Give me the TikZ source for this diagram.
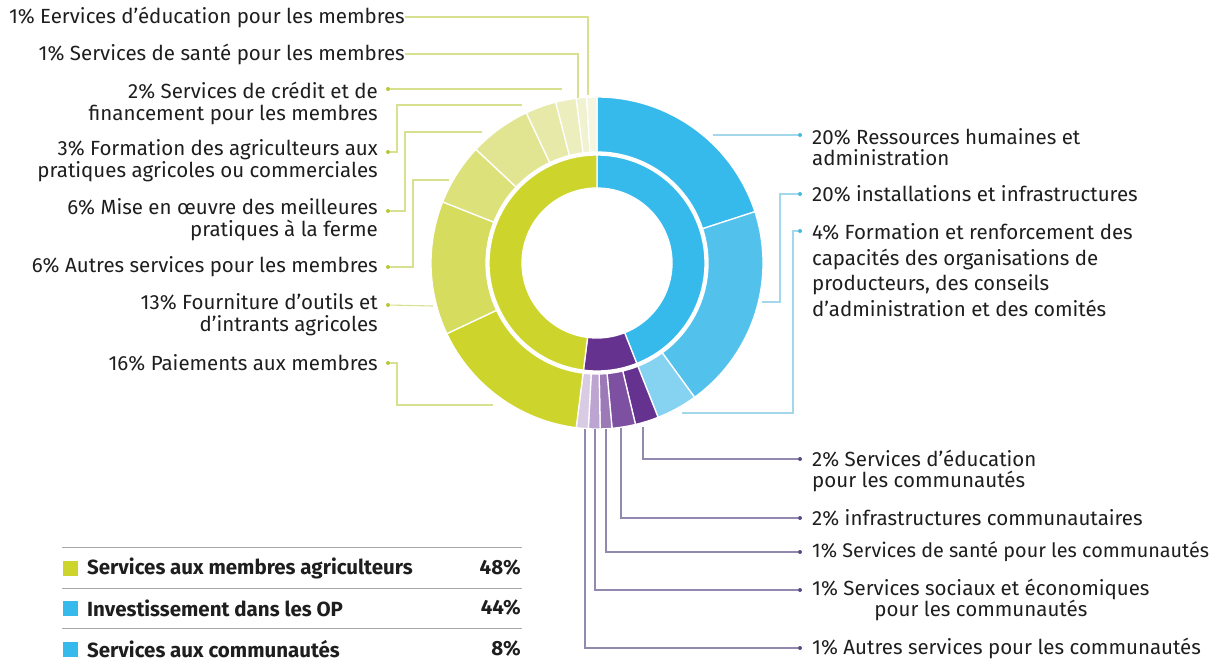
\documentclass[tikz,border=0pt]{standalone}
\usepackage{fontspec}
\setmainfont{Fira Sans}
\usetikzlibrary{positioning}

\definecolor{txt}{HTML}{1E1E1E}
% ring colours
\definecolor{grA}{HTML}{CDD52C}
\definecolor{grB}{HTML}{D5DC5E}
\definecolor{grC}{HTML}{DCE17A}
\definecolor{grD}{HTML}{E1E591}
\definecolor{grE}{HTML}{E6E9A8}
\definecolor{grF}{HTML}{ECEEBE}
\definecolor{grG}{HTML}{F1F2D0}
\definecolor{grH}{HTML}{F5F6E0}
\definecolor{blA}{HTML}{36BAEB}
\definecolor{blB}{HTML}{52C2ED}
\definecolor{blC}{HTML}{86D3F1}
\definecolor{puA}{HTML}{653290}
\definecolor{puB}{HTML}{7E50A2}
\definecolor{puC}{HTML}{9C7AB8}
\definecolor{puD}{HTML}{BCA5D0}
\definecolor{puE}{HTML}{DACBE5}
% leader colours
\definecolor{grLine}{HTML}{D8E18F}
\definecolor{grDot}{HTML}{B8C83A}
\definecolor{blLine}{HTML}{A3D8EC}
\definecolor{blDot}{HTML}{46B7E0}
\definecolor{puLine}{HTML}{9388AE}
\definecolor{puDot}{HTML}{5A4888}
\definecolor{rule}{HTML}{A8A8A8}

\tikzstyle{lbl}=[inner sep=0pt, text=txt, font=\fontsize{20.5}{22}\selectfont]
\tikzstyle{lblL}=[lbl, anchor=east, align=right]
\tikzstyle{lblR}=[lbl, anchor=west, align=left]
\tikzstyle{legtext}=[inner sep=0pt, text=txt, font=\fontsize{20.5}{22}\selectfont\bfseries]
\tikzstyle{gdot}=[circle, fill=grDot, inner sep=0pt, minimum size=4pt]
\tikzstyle{bdot}=[circle, fill=blDot, inner sep=0pt, minimum size=4pt]
\tikzstyle{pdot}=[circle, fill=puDot, inner sep=0pt, minimum size=4pt]
\tikzstyle{gline}=[draw=grLine, line width=1.1pt]
\tikzstyle{bline}=[draw=blLine, line width=1.1pt]
\tikzstyle{pline}=[draw=puLine, line width=1.1pt]
\tikzstyle{legsq}=[inner sep=0pt, minimum size=15pt]

% one piece of the ring: start angle, end angle, inner radius, outer radius, colour
\newcommand{\ringseg}[5]{%
  \fill[#5, draw=white, line width=1.3pt] (#1:#4) arc[start angle=#1, end angle=#2, radius=#4]
    -- (#2:#3) arc[start angle=#2, end angle=#1, radius=#3] -- cycle;}

\begin{document}
\begin{tikzpicture}[x=1pt, y=-1pt]
    \useasboundingbox (0,0) rectangle (1219,667);

    % donut
    \begin{scope}[shift={(597,263)}, yscale=-1]
        % inner ring
        \ringseg{90}{-68.4}{75}{108}{blA}
        \ringseg{-68.4}{-97.2}{75}{108}{puA}
        \ringseg{-97.2}{-270}{75}{108}{grA}
        % outer ring
        \ringseg{90}{18}{111}{166}{blA}
        \ringseg{18}{-54}{111}{166}{blB}
        \ringseg{-54}{-68.4}{111}{166}{blC}
        \ringseg{-68.4}{-76.6}{111}{166}{puA}
        \ringseg{-76.6}{-84.8}{111}{166}{puB}
        \ringseg{-84.8}{-88.9}{111}{166}{puC}
        \ringseg{-88.9}{-93.0}{111}{166}{puD}
        \ringseg{-93.0}{-97.2}{111}{166}{puE}
        \ringseg{-97.2}{-154.8}{111}{166}{grA}
        \ringseg{-154.8}{-201.6}{111}{166}{grB}
        \ringseg{-201.6}{-223.2}{111}{166}{grC}
        \ringseg{-223.2}{-244.8}{111}{166}{grD}
        \ringseg{-244.8}{-255.6}{111}{166}{grE}
        \ringseg{-255.6}{-262.8}{111}{166}{grF}
        \ringseg{-262.8}{-266.4}{111}{166}{grG}
        \ringseg{-266.4}{-270}{111}{166}{grH}
    \end{scope}

    % segment ends of the leaders
    \coordinate (s1) at (588,95);
    \coordinate (s2) at (578,98);
    \coordinate (s3) at (562,89);
    \coordinate (s4) at (522,105);
    \coordinate (s5) at (482,132);
    \coordinate (s6) at (449,180);
    \coordinate (s7) at (433,306);
    \coordinate (s8) at (493,405);
    \coordinate (s9) at (713,135);
    \coordinate (s10) at (762,302);
    \coordinate (s11) at (682,413);
    \coordinate (s12) at (643,427);
    \coordinate (s13) at (621,428);
    \coordinate (s14) at (606,429);
    \coordinate (s15) at (595,429);
    \coordinate (s16) at (585,429);

    % left labels
    \node[lblL] (l1) at (405,17) {1\% Eervices d’éducation pour les membres};
    \node[lblL] (l2) at (405,54) {1\% Services de santé pour les membres};
    \node[lblL] (l3) at (378,103) {2\% Services de crédit et de\\financement pour les membres};
    \node[lblL] (l4) at (378,161) {3\% Formation des agriculteurs aux\\pratiques agricoles ou commerciales};
    \node[lblL] (l5) at (378,220) {6\% Mise en œuvre des meilleures\\pratiques à la ferme};
    \node[lblL] (l6) at (378,267) {6\% Autres services pour les membres};
    \node[lblL] (l7) at (378,315) {13\% Fourniture d’outils et\\d’intrants agricoles};
    \node[lblL] (l8) at (378,363) {16\% Paiements aux membres};
    \node[gdot] (dl3) at (388,89) {};
    \node[gdot] (dl4) at (388,152) {};
    \node[gdot] (dl5) at (388,211) {};
    \node[gdot] (dl6) at (388,267) {};
    \node[gdot] (dl7) at (388,305) {};
    \node[gdot] (dl8) at (388,363) {};

    % right labels
    \node[lblR, font=\fontsize{20.5}{21}\selectfont] (r1) at (812,147) {20\% Ressources humaines et\\administration};
    \node[lblR] (r2) at (812,194) {20\% installations et infrastructures};
    \node[lblR, font=\fontsize{20.5}{25.5}\selectfont] (r3) at (812,270) {4\% Formation et renforcement des\\capacités des organisations de\\producteurs, des conseils\\d’administration et des comités};
    \node[bdot] (dr1) at (800,135) {};
    \node[bdot] (dr2) at (800,194) {};
    \node[bdot] (dr3) at (800,231) {};

    % bottom labels
    \node[lblR, font=\fontsize{20.5}{21}\selectfont] (p1) at (812,471) {2\% Services d’éducation\\pour les communautés};
    \node[lblR] (p2) at (812,518) {2\% infrastructures communautaires};
    \node[lblR, font=\fontsize{19.8}{22}\selectfont] (p3) at (812,552) {1\% Services de santé pour les communautés};
    \node[lblR, align=center, font=\fontsize{20.5}{21}\selectfont] (p4) at (812,600) {1\% Services sociaux et économiques\\pour les communautés};
    \node[lblR] (p5) at (812,648) {1\% Autres services pour les communautés};
    \node[pdot] (dp1) at (800,459) {};
    \node[pdot] (dp2) at (800,518) {};
    \node[pdot] (dp3) at (800,552) {};
    \node[pdot] (dp4) at (800,590) {};
    \node[pdot] (dp5) at (800,648) {};

    % leaders
    \draw[gline] (l1.east) -| (s1);
    \draw[gline] (l2.east) -| (s2);
    \draw[gline] (dl3) -- (s3);
    \draw[gline] (dl4) -- ++(9,0) |- (s4);
    \draw[gline] (dl5) -- ++(17,0) |- (s5);
    \draw[gline] (dl6) -- ++(25,0) |- (s6);
    \draw[gline] (dl7) -- (s7);
    \draw[gline] (dl8) -- ++(9,0) |- (s8);
    \draw[bline] (s9) -- (dr1);
    \draw[bline] (dr2) -- ++(-20,0) |- (s10);
    \draw[bline] (dr3) -- ++(-7,0) |- (s11);
    \draw[pline] (s12) |- (dp1);
    \draw[pline] (s13) |- (dp2);
    \draw[pline] (s14) |- (dp3);
    \draw[pline] (s15) |- (dp4);
    \draw[pline] (s16) |- (dp5);

    % legend
    \draw[rule, line width=1pt] (62,547) -- (522,547);
    \draw[rule, line width=1pt] (62,588) -- (522,588);
    \draw[rule, line width=1pt] (62,628) -- (522,628);
    \node[legsq, fill=grA] (k1) at (70,568) {};
    \node[legsq, fill=blA] (k2) at (70,608) {};
    \node[legsq, fill=blA] (k3) at (70,649) {};
    \node[legtext, anchor=west] (g1) at (87,568) {Services aux membres agriculteurs};
    \node[legtext, anchor=west] (g2) at (87,608) {Investissement dans les OP};
    \node[legtext, anchor=west] (g3) at (87,649) {Services aux communautés};
    \node[legtext, anchor=east] (v1) at (521,568) {48\%};
    \node[legtext, anchor=east] (v2) at (521,608) {44\%};
    \node[legtext, anchor=east] (v3) at (521,649) {8\%};
\end{tikzpicture}
\end{document}
